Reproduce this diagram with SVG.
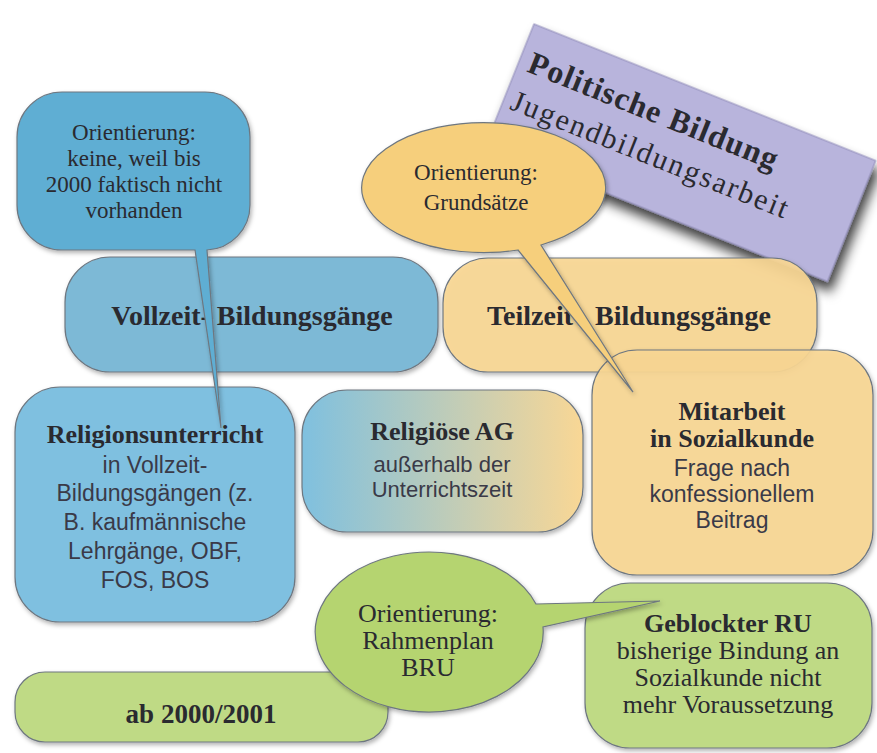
<svg xmlns="http://www.w3.org/2000/svg" width="877" height="753" viewBox="0 0 877 753">
<defs>
<filter id="sh" x="-10%" y="-10%" width="130%" height="130%"><feDropShadow dx="1.5" dy="2.5" stdDeviation="2" flood-color="#000" flood-opacity="0.3"/></filter>
<filter id="shBig" x="-20%" y="-30%" width="150%" height="170%"><feDropShadow dx="7" dy="8" stdDeviation="6" flood-color="#000" flood-opacity="0.75"/></filter>
<linearGradient id="gAG" x1="0" y1="0" x2="1" y2="0"><stop offset="0" stop-color="#7fc0df"/><stop offset="1" stop-color="#f9d795"/></linearGradient>
</defs>
<style>
.bd{stroke:#6e7780;stroke-width:1.2}
.blue1{fill:#5eaed3}
.blue2{fill:#7db9d6}
.blue3{fill:#7fc0e0}
.or{fill:#f8d794;fill-opacity:0.92}
.or2{fill:#f6cf7c}
.gr{fill:#bfda85}
.gr2{fill:#b5d46f}
.sb{font-family:"Liberation Serif",serif;font-weight:bold;fill:#2a2a30;text-anchor:middle}
.sr{font-family:"Liberation Serif",serif;fill:#2a2a30;text-anchor:middle}
.ss{font-family:"Liberation Sans",Arial,sans-serif;fill:#3a3a48;text-anchor:middle}
.st{text-anchor:start}
</style>

<g id="politische-bildung" transform="translate(534,24) rotate(21.8)">
<rect x="0" y="0" width="368" height="130" fill="#b8b4dc" stroke="#8f8cb8" stroke-width="1" filter="url(#shBig)"/>
<text x="10" y="47" font-family="Liberation Serif,serif" font-weight="bold" font-size="32" fill="#2a2a30" textLength="266" lengthAdjust="spacing">Politische Bildung</text>
<text x="8" y="88" font-family="Liberation Serif,serif" font-size="30" fill="#2a2a30" textLength="296" lengthAdjust="spacing">Jugendbildungsarbeit</text>
</g>

<g id="vollzeit">
<rect class="blue2 bd" x="65" y="257" width="373" height="115" rx="45" filter="url(#sh)"/>
<text class="sb" x="252" y="325" font-size="28">Vollzeit- Bildungsgänge</text>
</g>

<g id="teilzeit">
<rect class="or bd" x="443" y="258" width="374" height="114" rx="45" filter="url(#sh)"/>
<text class="sb st" y="325" font-size="28" style="text-anchor:start"><tspan x="487">Teilzeit</tspan><tspan x="595">Bildungsgänge</tspan></text>
</g>

<g id="religionsunterricht">
<rect class="blue3 bd" x="15" y="387" width="280" height="235" rx="45" filter="url(#sh)"/>
<text class="sb" x="155" y="443" font-size="26">Religionsunterricht</text>
<text class="ss" font-size="23"><tspan x="155" y="473">in Vollzeit-</tspan><tspan x="155" y="501">Bildungsgängen (z.</tspan><tspan x="155" y="530">B. kaufmännische</tspan><tspan x="155" y="559">Lehrgänge, OBF,</tspan><tspan x="155" y="588">FOS, BOS</tspan></text>
</g>

<g id="religioese-ag">
<rect x="302" y="390" width="281" height="142" rx="45" fill="url(#gAG)" class="bd" filter="url(#sh)"/>
<text class="sb" x="442" y="440" font-size="26">Religiöse AG</text>
<text class="ss" font-size="22"><tspan x="442" y="472">außerhalb der</tspan><tspan x="442" y="497">Unterrichtszeit</tspan></text>
</g>

<g id="mitarbeit">
<rect class="or bd" x="592" y="350" width="281" height="225" rx="45" filter="url(#sh)"/>
<text class="sb" x="732" y="420" font-size="26"><tspan x="732" y="420">Mitarbeit</tspan><tspan x="732" y="447">in Sozialkunde</tspan></text>
<text class="ss" font-size="23"><tspan x="732" y="476">Frage nach</tspan><tspan x="732" y="502">konfessionellem</tspan><tspan x="732" y="528">Beitrag</tspan></text>
</g>

<g id="ab-2000">
<rect class="gr bd" x="15" y="672" width="373" height="70" rx="30" filter="url(#sh)"/>
<text class="sb" x="201" y="723" font-size="27">ab 2000/2001</text>
</g>

<g id="geblockter-ru">
<rect class="gr bd" x="585" y="583" width="287" height="165" rx="45" filter="url(#sh)"/>
<text class="sb" x="728" y="632" font-size="26">Geblockter RU</text>
<text class="sr" font-size="26"><tspan x="728" y="659">bisherige  Bindung an</tspan><tspan x="728" y="686">Sozialkunde nicht</tspan><tspan x="728" y="713">mehr Voraussetzung</tspan></text>
</g>

<g id="connectors">
<g id="orientierung-keine">
<path class="blue1 bd" d="M 62,92 H 205 A 45 45 0 0 1 250,137 V 205 A 45 45 0 0 1 207,250 L 221,428 L 195,250 H 62 A 45 45 0 0 1 17,205 V 137 A 45 45 0 0 1 62,92 Z" filter="url(#sh)"/>
<text class="sr" font-size="23"><tspan x="134" y="140">Orientierung:</tspan><tspan x="134" y="166">keine, weil bis</tspan><tspan x="134" y="192">2000 faktisch nicht</tspan><tspan x="134" y="218">vorhanden</tspan></text>
</g>
<g id="orientierung-grundsaetze">
<path class="or2 bd" d="M 518,250 A 122 65 0 1 1 541,245 L 633,392 Z" filter="url(#sh)"/>
<text class="sr" font-size="23"><tspan x="476" y="180">Orientierung:</tspan><tspan x="476" y="210">Grundsätze</tspan></text>
</g>
<g id="orientierung-rahmenplan">
<path class="gr2 bd" d="M 543,627 A 114 80 0 1 1 536,604 L 660,601 Z" filter="url(#sh)"/>
<text class="sr" font-size="26"><tspan x="428" y="622">Orientierung:</tspan><tspan x="428" y="649">Rahmenplan</tspan><tspan x="428" y="676">BRU</tspan></text>
</g>
</g>
</svg>
